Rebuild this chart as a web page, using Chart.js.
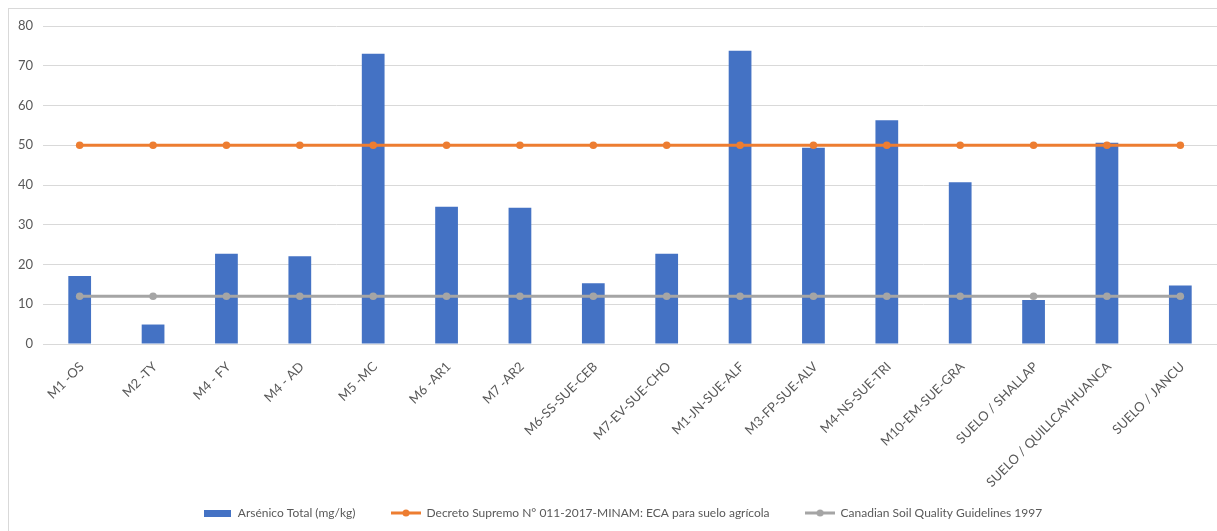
<!DOCTYPE html>
<html>
<head>
<meta charset="utf-8">
<script src="https://cdn.jsdelivr.net/npm/chart.js@4/dist/chart.umd.min.js"></script>
<style>
  html, body { margin: 0; padding: 0; background: #fff; overflow: hidden; }
  #wrap { position: relative; width: 1217px; height: 531px; overflow: hidden; }
  #frame { position: absolute; left: 8px; top: 8px; width: 1400px; height: 700px;
           border: 1px solid #d9d9d9; box-sizing: border-box; }
  #box { position: absolute; left: 0; top: 0; width: 1250px; height: 531px; }
</style>
</head>
<body>
<div id="wrap">
  <div id="frame"></div>
  <div id="box"><canvas id="c"></canvas></div>
</div>
<script>
// Sampling points
const categories = [
  'M1 -OS', 'M2 -TY', 'M4 - FY', 'M4 - AD', 'M5 -MC', 'M6 -AR1', 'M7 -AR2',
  'M6-SS-SUE-CEB', 'M7-EV-SUE-CHO', 'M1-JN-SUE-ALF', 'M3-FP-SUE-ALV',
  'M4-NS-SUE-TRI', 'M10-EM-SUE-GRA', 'SUELO / SHALLAP',
  'SUELO / QUILLCAYHUANCA', 'SUELO / JANCU'
];

// Total arsenic measured in each sample (mg/kg)
const arsenicoTotal = [17.1, 4.9, 22.7, 22.1, 73.0, 34.5, 34.3, 15.3, 22.7, 73.8, 49.4, 56.3, 40.7, 11.1, 50.6, 14.7];

// Peruvian agricultural soil standard (ECA) – D.S. N° 011-2017-MINAM
const ecaSueloAgricola = [50, 50, 50, 50, 50, 50, 50, 50, 50, 50, 50, 50, 50, 50, 50, 50];

// Canadian Soil Quality Guidelines 1997
const canadianGuideline = [12, 12, 12, 12, 12, 12, 12, 12, 12, 12, 12, 12, 12, 12, 12, 12];

const seriesNames = [
  'Arsénico Total (mg/kg)',
  'Decreto Supremo N° 011-2017-MINAM: ECA para suelo agrícola',
  'Canadian Soil Quality Guidelines 1997'
];

const yMin = 0, yMax = 80, yStep = 10;

const BLUE = '#4472C4', ORANGE = '#ED7D31', GREY = '#A5A5A5', TEXT = '#595959', GRID = '#d9d9d9';
const FONT = "Lato, 'Liberation Sans', sans-serif";
const PAD_BOTTOM = 2;
const PLOT_BOTTOM = 344;

// Legend swatches: a filled box for the bars, a line with a marker for the lines
function swatchBox(color) {
  const c = document.createElement('canvas');
  c.width = 27; c.height = 7;
  const g = c.getContext('2d');
  g.fillStyle = color; g.fillRect(0, 0, 27, 7);
  return c;
}
function swatchLine(color) {
  const c = document.createElement('canvas');
  c.width = 30; c.height = 10;
  const g = c.getContext('2d');
  g.strokeStyle = color; g.lineWidth = 3;
  g.beginPath(); g.moveTo(0, 5); g.lineTo(30, 5); g.stroke();
  g.fillStyle = color; g.beginPath(); g.arc(15, 5, 3.5, 0, Math.PI * 2); g.fill();
  return c;
}

// Nudge the legend row to the right, and let the long rotated category
// labels run past the bottom of the x-axis box instead of being clipped
const layoutTweaks = {
  id: 'layoutTweaks',
  afterLayout(chart) {
    const lg = chart.legend;
    if (lg) { lg.left += 10; lg.right += 10; }
    const x = chart.scales.x;
    if (x) { x.bottom += 40; }
  }
};

new Chart(document.getElementById('c'), {
  data: {
    labels: categories,
    datasets: [
      {
        type: 'bar', label: seriesNames[0], data: arsenicoTotal,
        backgroundColor: BLUE, borderWidth: 0,
        barPercentage: 0.31, categoryPercentage: 1.0, order: 2
      },
      {
        type: 'line', label: seriesNames[1], data: ecaSueloAgricola,
        borderColor: ORANGE, backgroundColor: ORANGE, borderWidth: 3,
        pointRadius: 3.8, pointHoverRadius: 3.8, pointBackgroundColor: ORANGE,
        pointBorderWidth: 0, fill: false, tension: 0, order: 1
      },
      {
        type: 'line', label: seriesNames[2], data: canadianGuideline,
        borderColor: GREY, backgroundColor: GREY, borderWidth: 3,
        pointRadius: 3.8, pointHoverRadius: 3.8, pointBackgroundColor: GREY,
        pointBorderWidth: 0, fill: false, tension: 0, order: 0
      }
    ]
  },
  plugins: [layoutTweaks],
  options: {
    responsive: true,
    maintainAspectRatio: false,
    animation: false,
    devicePixelRatio: 1,
    layout: { padding: { left: 8, right: 33, top: 26, bottom: PAD_BOTTOM } },
    plugins: {
      tooltip: { enabled: false },
      legend: {
        position: 'bottom',
        labels: {
          color: TEXT,
          font: { family: FONT, size: 12 },
          usePointStyle: true,
          pointStyleWidth: 29,
          padding: 36,
          sort: (a, b) => a.datasetIndex - b.datasetIndex,
          generateLabels: (chart) => chart.data.datasets.map((ds, i) => ({
            text: ds.label,
            fontColor: TEXT,
            pointStyle: i === 0 ? swatchBox(BLUE) : swatchLine(i === 1 ? ORANGE : GREY),
            fillStyle: 'transparent', strokeStyle: 'transparent', lineWidth: 0,
            hidden: false, datasetIndex: i
          }))
        }
      }
    },
    scales: {
      x: {
        grid: { display: false, drawTicks: false },
        border: { display: true, color: GRID, width: 1 },
        ticks: {
          color: TEXT, font: { family: FONT, size: 13 },
          maxRotation: 45, minRotation: 45, autoSkip: false,
          padding: 15, labelOffset: 2
        },
        afterFit: (s) => {
          const lh = s.chart.legend ? s.chart.legend.height : 60;
          s.height = s.chart.height - PAD_BOTTOM - lh - PLOT_BOTTOM;
        }
      },
      y: {
        min: yMin, max: yMax,
        grid: { color: GRID, lineWidth: 1, drawTicks: false },
        border: { display: false },
        ticks: {
          stepSize: yStep, color: TEXT, padding: 10,
          font: { family: FONT, size: 13 }
        },
        afterFit: (s) => { s.width = 35; }
      }
    }
  }
});
</script>
</body>
</html>
